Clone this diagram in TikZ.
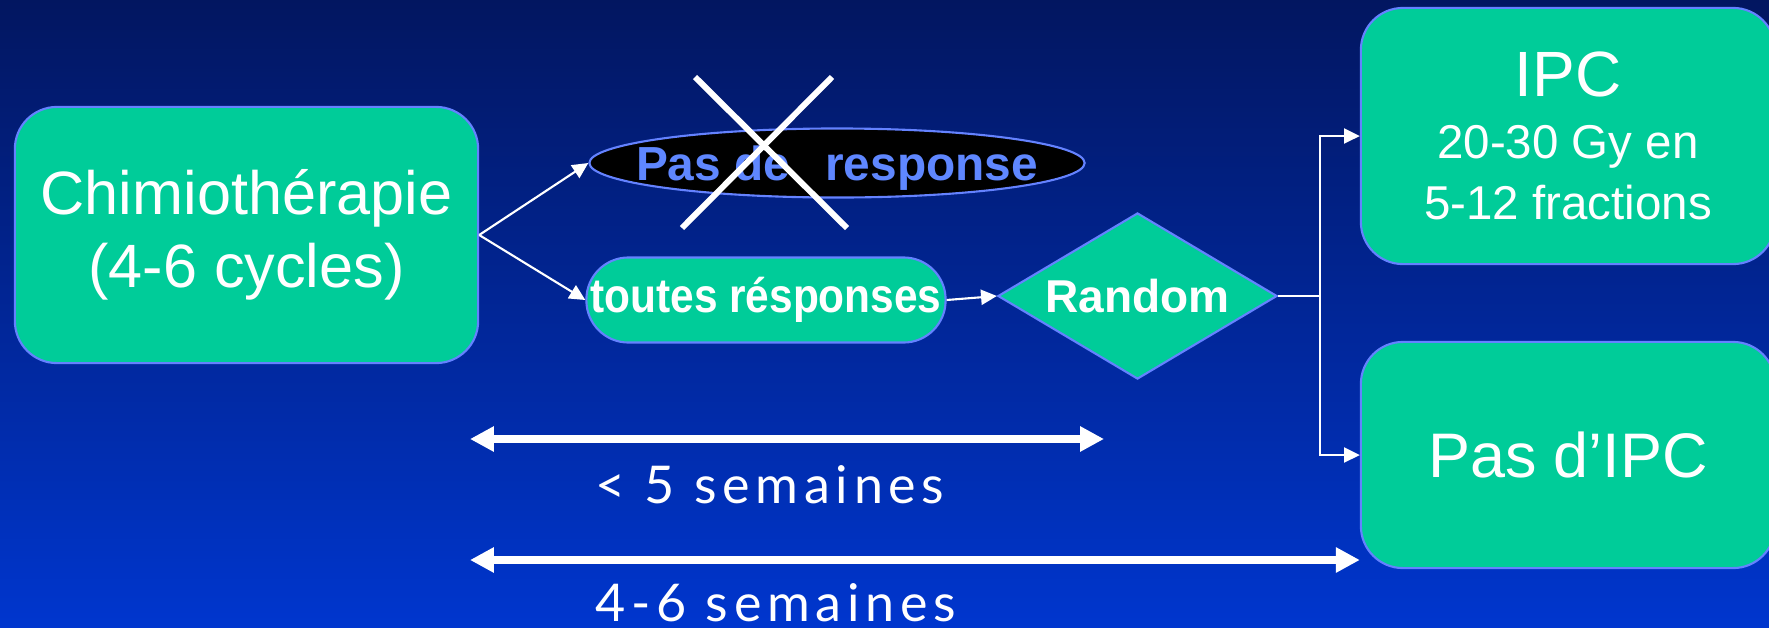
\documentclass[tikz,border=0pt]{standalone}
\usepackage{fontspec}
\setmainfont{Liberation Sans}
\newfontfamily\weekfont[LetterSpace=11]{Lato}
\usepackage{graphicx}
\usetikzlibrary{shapes.geometric,arrows.meta}
\definecolor{bgtop}{RGB}{2,22,96}
\definecolor{bgbot}{RGB}{0,54,206}
\definecolor{boxgreen}{RGB}{0,204,153}
\definecolor{edgeblue}{RGB}{100,130,255}
\definecolor{textblue}{RGB}{95,135,255}
% texte centre sur la forme, sans changer sa taille
\newcommand{\flattext}[1]{\makebox[0pt]{\raisebox{-0.36em}[0pt][0pt]{#1}}}

\begin{document}
\begin{tikzpicture}[x=0.01cm, y=-0.01cm,
    greenbox/.style={draw=edgeblue, line width=0.6pt, fill=boxgreen, text=white, rounded corners=0.42cm, inner sep=0pt, align=center},
    thinarrow/.style={draw=white, line width=0.6pt, -{Triangle[length=4.5pt,width=4.3pt]}},
    spanarrow/.style={draw=white, line width=2.3pt, {Triangle[length=6.8pt,width=6.8pt]}-{Triangle[length=6.8pt,width=6.8pt]}},
    weeklabel/.style={text=white, inner sep=0pt, anchor=base west, font={\weekfont\fontsize{14.8pt}{18pt}\selectfont}}]
  \useasboundingbox (0,0) rectangle (1769,627);
  \fill[top color=bgtop, bottom color=bgbot] (0,0) rectangle (1769,627);

  \node (chimio) [greenbox, minimum width=4.63cm, minimum height=2.56cm, font=\fontsize{17.4pt}{20.8pt}\selectfont] at (246.5,235) {Chimiothérapie\hspace{6pt}\\(4-6 cycles)\hspace{6pt}};
  \node (pasrep) [ellipse, draw=edgeblue, line width=0.6pt, fill=black, minimum width=4.95cm, minimum height=0.69cm, inner sep=0pt, text=textblue, font=\bfseries\fontsize{13.6pt}{15pt}\selectfont] at (837,163) {\flattext{Pas de\hspace{10pt}response}};
  \node (toutes) [greenbox, minimum width=3.59cm, minimum height=0.85cm, font=\bfseries\fontsize{13.7pt}{16pt}\selectfont] at (766,300) {\scalebox{0.88}[1]{toutes résponses}};
  \node (random) [diamond, draw=edgeblue, line width=0.6pt, fill=boxgreen, text=white, minimum width=2.79cm, minimum height=1.66cm, inner sep=0pt, font=\bfseries\fontsize{13.1pt}{15pt}\selectfont] at (1137.5,296) {\flattext{Random}};
  \node (ipc) [greenbox, minimum width=4.14cm, minimum height=2.56cm, font=\fontsize{13.5pt}{16.5pt}\selectfont] at (1568,136) {{\fontsize{18.2pt}{22pt}\selectfont IPC}\\[1pt]20-30 Gy en\\[1pt]5-12 fractions};
  \node (pasipc) [greenbox, minimum width=4.14cm, minimum height=2.26cm, font=\fontsize{17.9pt}{21pt}\selectfont] at (1568,455) {Pas d’IPC};

  % croix sur la non-reponse
  \draw[white, line width=1.7pt] (695,77) -- (847,228);
  \draw[white, line width=1.7pt] (832,77) -- (682,228);

  \draw[thinarrow] (chimio.east) -- (pasrep.west);
  \draw[thinarrow] (chimio.east) -- (toutes.west);
  \draw[thinarrow] (toutes.east) -- (random.west);
  \draw[white, line width=0.6pt] (random.east) -- ++(42,0) coordinate (split);
  \draw[thinarrow] (split) |- (ipc.west);
  \draw[thinarrow] (split) |- (pasipc.west);

  % durees
  \coordinate (shortleft) at (470,439);
  \coordinate (shortright) at (1104,439);
  \coordinate (longleft) at (470,560);
  \draw[spanarrow] (shortleft) -- (shortright);
  \draw[spanarrow] (longleft) -- (longleft -| pasipc.west);
  \node (shortlabel) [weeklabel] at (595,503) {< 5 semaines};
  \node (longlabel) [weeklabel] at (595,621) {4-6 semaines};
\end{tikzpicture}
\end{document}
